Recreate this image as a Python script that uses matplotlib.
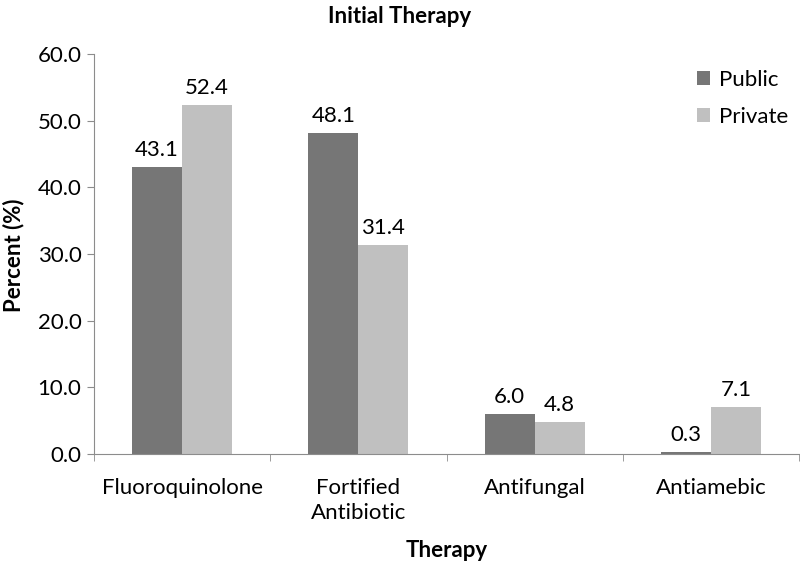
import numpy as np
import matplotlib
matplotlib.use("Agg")
import matplotlib.pyplot as plt

categories = ["Fluoroquinolone", "Fortified\nAntibiotic", "Antifungal", "Antiamebic"]
public = [43.1, 48.1, 6.0, 0.3]
private = [52.4, 31.4, 4.8, 7.1]
yticks = [0, 10, 20, 30, 40, 50, 60]

plt.rcParams['font.family'] = ['Lato', 'DejaVu Sans']
axis_color = '#8c8c8c'
fs = 16

fig = plt.figure(figsize=(8, 5.62), dpi=100)
ax = fig.add_axes([0.1175, 0.192, 0.88125, 0.712])

x = np.arange(len(categories))
w = 0.284
b1 = ax.bar(x - w / 2, public, w, color='#767676', label='Public')
b2 = ax.bar(x + w / 2, private, w, color='#c0c0c0', label='Private')

for bars, vals in ((b1, public), (b2, private)):
    for bar, v in zip(bars, vals):
        ax.annotate(f'{v:.1f}', (bar.get_x() + bar.get_width() / 2, v),
                    xytext=(0, 5), textcoords='offset points',
                    ha='center', va='bottom', fontsize=fs)

ax.set_xlim(-0.5, len(categories) - 0.5)
ax.set_ylim(0, 60)
ax.set_yticks(yticks)
ax.set_yticklabels([f'{t:.1f}' for t in yticks], fontsize=fs)
ax.set_xticks(x)
ax.set_xticklabels(categories, fontsize=fs, linespacing=1.3)
ax.set_xticks(np.arange(-0.5, len(categories), 1), minor=True)
ax.tick_params(axis='x', which='major', length=0, pad=17)
ax.tick_params(axis='x', which='minor', length=5, color=axis_color)
ax.tick_params(axis='y', length=5, color=axis_color, pad=4)

for s in ['top', 'right']:
    ax.spines[s].set_visible(False)
for s in ['left', 'bottom']:
    ax.spines[s].set_color(axis_color)

ax.set_xlabel('Therapy', fontsize=fs, fontweight='bold')
ax.xaxis.set_label_coords(0.5, -0.215)

fig.text(0.017, 0.546, 'Percent (%)', rotation=90, ha='center', va='center',
         fontsize=fs, fontweight='bold')

fig.text(0.5, 0.99, 'Initial Therapy', ha='center', va='top',
         fontsize=16, fontweight='bold')

ax.legend(loc='upper right', bbox_to_anchor=(1.013, 1.01), frameon=False,
          fontsize=fs, handlelength=0.6, handleheight=0.6,
          labelspacing=0.75, handletextpad=0.4)

fig.savefig('out.png', dpi=100)
